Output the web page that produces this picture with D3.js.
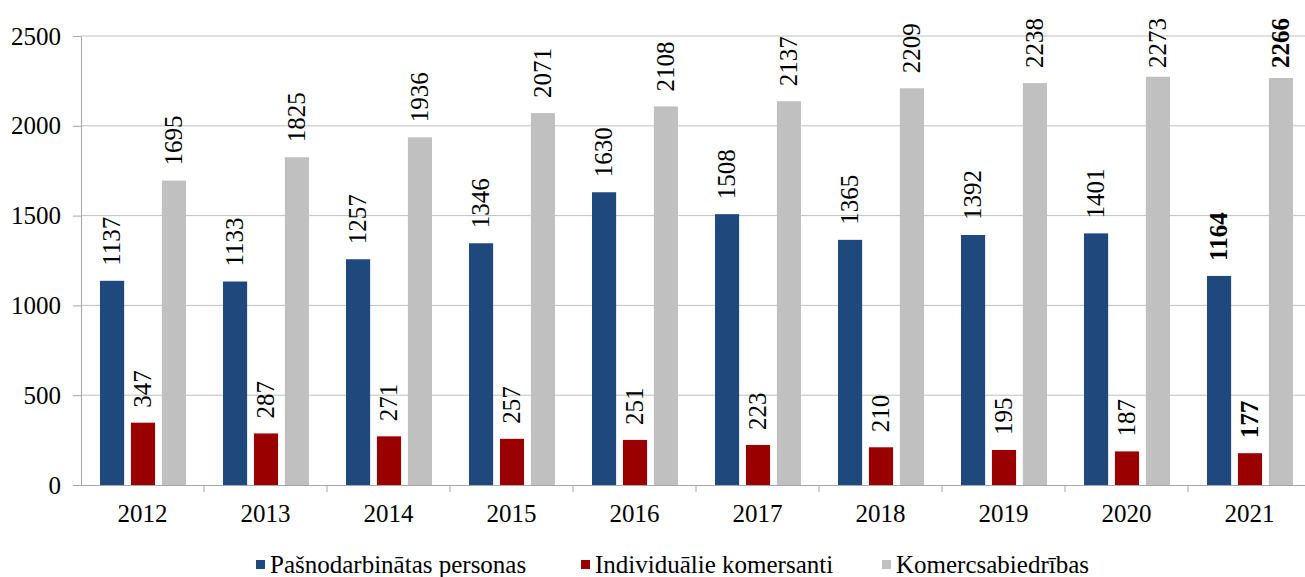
<!DOCTYPE html>
<html>
<head>
<meta charset="utf-8">
<script src="https://cdn.jsdelivr.net/npm/d3@7"></script>
<style>
  body { margin: 0; background: #fff; }
</style>
</head>
<body>
<svg id="chart" width="1305" height="577"></svg>
<script>
var years = ["2012", "2013", "2014", "2015", "2016", "2017", "2018", "2019", "2020", "2021"];
var seriesNames = ["Pašnodarbinātas personas", "Individuālie komersanti", "Komercsabiedrības"];
var pasnodarbinatas = [1137, 1133, 1257, 1346, 1630, 1508, 1365, 1392, 1401, 1164];
var individualie = [347, 287, 271, 257, 251, 223, 210, 195, 187, 177];
var komercsabiedribas = [1695, 1825, 1936, 2071, 2108, 2137, 2209, 2238, 2273, 2266];
var yTicks = [0, 500, 1000, 1500, 2000, 2500];
var colors = ["#1f497d", "#9b0000", "#c0c0c0"];

var allSeries = [pasnodarbinatas, individualie, komercsabiedribas];
var FONT = "Liberation Serif";
var FS = "25px";

var svg = d3.select("#chart"),
    margin = {top: 36, right: 0, bottom: 92, left: 81},
    width = 1230,
    height = +svg.attr("height") - margin.top - margin.bottom,
    g = svg.append("g").attr("transform", "translate(" + margin.left + "," + margin.top + ")");

var x = d3.scaleBand().domain(years).range([0, width]).paddingInner(0).paddingOuter(0);
var x1 = d3.scaleBand().domain(d3.range(3)).range([19, 105]).paddingInner(0.22);
var y = d3.scaleLinear().domain([0, 2500]).range([height, 0]);

// grid lines
g.selectAll(".grid")
    .data(yTicks.slice(1))
    .enter().append("line")
    .attr("x1", 0).attr("x2", 1305 - margin.left)
    .attr("y1", function (d) { return y(d); })
    .attr("y2", function (d) { return y(d); })
    .attr("stroke", "#bfbfbf").attr("stroke-width", 1);

// y axis
var yAxis = g.append("g")
    .call(d3.axisLeft(y).tickValues(yTicks).tickSize(8).tickPadding(12).tickFormat(d3.format("d")));
yAxis.select(".domain").attr("stroke", "#a6a6a6");
yAxis.selectAll(".tick line").attr("stroke", "#a6a6a6");
yAxis.selectAll("text").attr("fill", "#000")
    .style("font-family", FONT).style("font-size", FS);

// x axis
var xAxis = g.append("g")
    .attr("transform", "translate(0," + height + ")")
    .call(d3.axisBottom(x).tickSize(0).tickPadding(19));
xAxis.select(".domain").attr("stroke", "#a6a6a6");
xAxis.selectAll("text").attr("fill", "#000")
    .style("font-family", FONT).style("font-size", FS);
g.append("g").selectAll("line")
    .data(years.slice(1))
    .enter().append("line")
    .attr("x1", function (d) { return x(d); })
    .attr("x2", function (d) { return x(d); })
    .attr("y1", height).attr("y2", height + 7)
    .attr("stroke", "#a6a6a6");

// bars
allSeries.forEach(function (vals, si) {
    var grp = g.append("g");
    grp.selectAll("rect")
        .data(vals)
        .enter().append("rect")
        .attr("x", function (d, i) { return x(years[i]) + x1(si); })
        .attr("y", function (d) { return y(d); })
        .attr("width", x1.bandwidth())
        .attr("height", function (d) { return height - y(d); })
        .attr("fill", colors[si]);

    grp.selectAll("text")
        .data(vals)
        .enter().append("text")
        .attr("text-anchor", "start")
        .style("font-family", FONT)
        .style("font-size", FS)
        .style("font-weight", function (d, i) { return i === years.length - 1 ? "bold" : "normal"; })
        .text(function (d) { return d; })
        .attr("transform", function (d, i) {
            var cx = x(years[i]) + x1(si) + x1.bandwidth() / 2;
            var len = this.getComputedTextLength();
            var start = y(d) - 15;
            // keep label inside plot area (push down when too high)
            if (start - len < -18) start = -18 + len;
            return "translate(" + (cx + 8) + "," + start + ") rotate(-90)";
        });
});

// legend
var legendX = [256, 581, 882];
var legend = svg.append("g");
seriesNames.forEach(function (name, i) {
    legend.append("rect")
        .attr("x", legendX[i]).attr("y", 560)
        .attr("width", 9).attr("height", 9)
        .attr("fill", colors[i]);
    legend.append("text")
        .attr("x", legendX[i] + 14).attr("y", 573)
        .style("font-family", FONT)
        .style("font-size", FS)
        .text(name);
});
</script>
</body>
</html>
